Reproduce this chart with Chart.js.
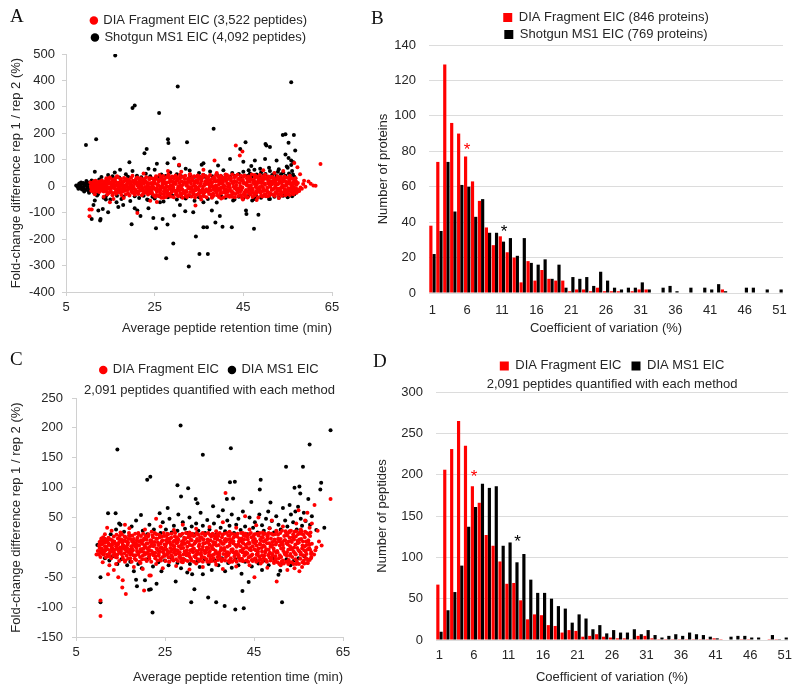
<!DOCTYPE html>
<html lang="en">
<head>
<meta charset="utf-8">
<title>DIA fragment vs MS1 quantification reproducibility</title>
<script src="https://cdn.jsdelivr.net/npm/chart.js@4.4.1/dist/chart.umd.min.js"></script>
<style>
html,body{margin:0;padding:0;background:#fff}
body{position:relative;width:800px;height:691px;overflow:hidden}
canvas{position:absolute}
.tag{position:absolute;font-family:"Liberation Serif","Times New Roman",serif;font-size:19px;line-height:19px;color:#111}
</style>
</head>
<body>
<canvas id="cA" width="400" height="345" style="left:0px;top:0px"></canvas>
<canvas id="cB" width="440" height="345" style="left:360px;top:0px"></canvas>
<canvas id="cC" width="400" height="351" style="left:0px;top:340px"></canvas>
<canvas id="cD" width="440" height="351" style="left:360px;top:340px"></canvas>
<div class="tag" style="left:10px;top:6px">A</div>
<div class="tag" style="left:371px;top:8px">B</div>
<div class="tag" style="left:10px;top:349px">C</div>
<div class="tag" style="left:373px;top:351px">D</div>
<script>
// ---------------- Panel A : fold-change vs retention time ----------------
const aFragCore = [
[10.6,2],[10.8,-8],[11,12],[11.2,-3],[11.4,7],[11.6,-14],[11.8,4],[12,-6],[12.2,15],[12.4,0],[12.6,-11],[12.8,9],[13,-2],[13.2,-17],[13.4,6],[13.6,16],[13.8,-7],[14,3],
[14.2,-21],[14.4,22],[14.6,-4],[14.8,11],[15,-13],[15.2,0],[15.4,25],[15.6,-26],[15.8,8],[16,-9],[16.2,17],[16.4,-18],[16.6,3],[16.8,-2],[17,13],[17.2,-24],[17.4,27],[17.6,-11],[17.8,6],[18,-5],[18.2,20],[18.4,-15],[18.6,0],[18.8,10],[19,-27],[19.2,24],[19.4,-8],[19.6,14],[19.8,-19],[20,2],[20.2,-1],[20.4,18],[20.6,-12],[20.8,28],[21,-23],[21.2,7],[21.4,-6],[21.6,15],[21.8,-16],[22,1],[22.2,23],[22.4,-28],[22.6,9],[22.8,-3],[23,19],[23.2,-13],[23.4,4],[23.6,-20],[23.8,26],[24,-7],[24.2,12],[24.4,-25],[24.6,-1],[24.8,16],[25,-10],
[25.2,30],[25.4,-33],[25.6,5],[25.8,-14],[26,21],[26.2,-2],[26.4,35],[26.6,-29],[26.8,11],[27,-7],[27.2,26],[27.4,-20],[27.6,0],[27.8,14],[28,-35],[28.2,32],[28.4,-9],[28.6,3],[28.8,-24],[29,18],[29.2,-4],[29.4,29],[29.6,-16],[29.8,8],[30,-31],[30.2,23],[30.4,-1],[30.6,12],[30.8,-26],[31,34],[31.2,-12],[31.4,6],[31.6,-19],[31.8,27],[32,-36],[32.2,2],[32.4,16],[32.6,-8],[32.8,31],[33,-22],[33.2,9],[33.4,-3],[33.6,22],[33.8,-30],[34,13],[34.2,-15],[34.4,36],[34.6,-5],[34.8,25],[35,-27],[35.2,1],[35.4,10],[35.6,-18],[35.8,33],[36,-34],[36.2,4],[36.4,19],[36.6,-11],[36.8,28],[37,-21],[37.2,7],[37.4,-6],[37.6,24],[37.8,-32],[38,15],[38.2,-1],[38.4,35],[38.6,-17],[38.8,3],[39,-25],[39.2,20],[39.4,-9],[39.6,30],[39.8,-28],[40,11],[40.2,-4],[40.4,17],[40.6,-23],[40.8,0],[41,32],[41.2,-13],[41.4,26],[41.6,-35],[41.8,8],[42,-7],[42.2,21],[42.4,-19],[42.6,14],[42.8,-2],[43,34],[43.2,-29],[43.4,5],[43.6,-16],[43.8,27],[44,-10],[44.2,12],[44.4,-33],[44.6,23],[44.8,-5],[45,36],[45.2,-24],[45.4,9],[45.6,-14],[45.8,30],[46,-20],[46.2,2],[46.4,18],[46.6,-31],[46.8,25],[47,-8],[47.2,13],[47.4,-26],[47.6,33],[47.8,-3],[48,6],[48.2,-22],[48.4,29],[48.6,-12],[48.8,16],[49,-36],[49.2,1],[49.4,22],[49.6,-18],[49.8,10],[50,-30],
[50.2,28],[50.4,-6],[50.6,15],[50.8,-25],[51,4],[51.2,32],[51.4,-14],[51.6,9],[51.8,-33],[52,20],[52.2,-2],[52.4,26],[52.6,-19],[52.8,7],[53,-10],[53.2,31],[53.4,-28],[53.6,13],[53.8,-4],[54,22],[54.2,-22],[54.4,1],[54.6,17],[54.8,-30],[55,10],
[55.2,-8],[55.4,24],[55.6,-18],[55.8,5],[56,-26],[56.2,15],[56.4,-3],[56.6,20],[56.8,-12],[57,6],
[10.7,-4],[11.1,6],[11.5,-1],[11.9,10],[12.3,-9],[12.7,4],[13.1,-5],[13.5,11],[13.9,-12],
[14.3,8],[14.7,-10],[15.1,14],[15.5,-3],[15.9,5],[16.3,-15],[16.7,12],[17.1,-7],[17.5,1],[17.9,16],[18.3,-12],[18.7,6],[19.1,-4],[19.5,10],[19.9,-9],[20.3,13],[20.7,-16],[21.1,3],[21.5,-2],[21.9,9],[22.3,-11],[22.7,15],[23.1,-6],[23.5,0],[23.9,-14],[24.3,7],[24.7,-5],
[25.1,11],[25.5,-7],[25.9,18],[26.3,-15],[26.7,3],[27.1,-19],[27.5,9],[27.9,-2],[28.3,15],[28.7,-12],[29.1,6],[29.5,-17],[29.9,20],[30.3,-5],[30.7,1],[31.1,-10],[31.5,14],[31.9,-20],[32.3,8],[32.7,-3],[33.1,17],[33.5,-13],[33.9,4],[34.3,-8],[34.7,12],[35.1,-18],[35.5,19],[35.9,-1],[36.3,9],[36.7,-15],[37.1,14],[37.5,-4],[37.9,2],[38.3,-11],[38.7,18],[39.1,-17],[39.5,7],[39.9,-6],[40.3,13],[40.7,-12],[41.1,20],[41.5,-2],[41.9,5],[42.3,-19],[42.7,10],[43.1,-9],[43.5,16],[43.9,-14],[44.3,1],[44.7,-5],[45.1,11],[45.5,-20],[45.9,17],[46.3,-8],[46.7,4],[47.1,-13],[47.5,8],[47.9,-18],[48.3,19],[48.7,-3],[49.1,12],[49.5,-11],[49.9,6],
[50.3,-14],[50.7,9],[51.1,-3],[51.5,16],[51.9,-10],[52.3,5],[52.7,-18],[53.1,12],[53.5,-6],[53.9,18],[54.3,-12],[54.7,3],[55.1,-16],[55.5,10],[55.9,-4],[56.3,8],[56.7,-9]
];
const aFragCore2 = [
[10.5,14],[10.7,-17],[10.9,6],[11.1,-20],[11.3,19],[11.5,-10],[11.7,21],[11.9,-1],[12.1,-19],[12.3,11],[12.5,-22],[12.7,17],[12.9,-13],[13.1,22],[13.3,5],[13.5,-20],[13.7,-9],[13.9,20],
[14.1,30],[14.3,-31],[14.5,12],[14.7,-26],[14.9,33],[15.1,-18],[15.3,7],[15.5,-34],[15.7,20],[15.9,-1],[16.1,29],[16.3,-28],[16.5,-11],[16.7,34],[16.9,-22],[17.1,9],[17.3,24],[17.5,-33],[17.7,15],[17.9,-19],[18.1,31],[18.3,-4],[18.5,-30],[18.7,26],[18.9,-14],[19.1,17],[19.3,-35],[19.5,4],[19.7,32],[19.9,-25],[20.1,21],[20.3,-9],[20.5,-32],[20.7,10],[20.9,-20],[21.1,33],[21.3,-29],[21.5,24],[21.7,-2],[21.9,30],[22.1,-34],[22.3,13],[22.5,-17],[22.7,27],[22.9,-24],[23.1,34],[23.3,-8],[23.5,-31],[23.7,11],[23.9,31],[24.1,-27],[24.3,-16],[24.5,29],[24.7,-33],[24.9,22],
[25.1,-40],[25.3,38],[25.5,-21],[25.7,26],[25.9,-37],[26.1,42],[26.3,-9],[26.5,-44],[26.7,20],[26.9,39],[27.1,-30],[27.3,13],[27.5,-41],[27.7,35],[27.9,-17],[28.1,44],[28.3,-28],[28.5,22],[28.7,-39],[28.9,37],[29.1,-10],[29.3,-42],[29.5,15],[29.7,41],[29.9,-23],[30.1,33],[30.3,-38],[30.5,-15],[30.7,43],[30.9,-35],[31.1,19],[31.3,-44],[31.5,36],[31.7,-25],[31.9,40],[32.1,-18],[32.3,-41],[32.5,28],[32.7,-33],[32.9,44],[33.1,-6],[33.3,-39],[33.5,34],[33.7,-27],[33.9,38],[34.1,-43],[34.3,21],[34.5,-32],[34.7,41],[34.9,-12],[35.1,37],[35.3,-40],[35.5,26],[35.7,-24],[35.9,43],[36.1,-38],[36.3,-20],[36.5,39],[36.7,-42],[36.9,14],[37.1,35],[37.3,-29],[37.5,42],[37.7,-16],[37.9,-44],[38.1,30],[38.3,-36],[38.5,22],[38.7,-8],[38.9,44],[39.1,-34],[39.3,37],[39.5,-41],[39.7,18],[39.9,40],[40.1,-26],[40.3,33],[40.5,-43],[40.7,27],[40.9,-14],[41.1,-38],[41.3,42],[41.5,-22],[41.7,38],[41.9,-40],[42.1,31],[42.3,-33],[42.5,44],[42.7,-25],[42.9,16],[43.1,-42],[43.3,39],[43.5,-12],[43.7,43],[43.9,-37],[44.1,28],[44.3,-20],[44.5,40],[44.7,-44],[44.9,24],[45.1,-31],[45.3,41],[45.5,-39],[45.7,10],[45.9,-43],[46.1,37],[46.3,-27],[46.5,34],[46.7,-17],[46.9,44],[47.1,-41],[47.3,21],[47.5,-35],[47.7,40],[47.9,-28],[48.1,36],[48.3,-43],[48.5,13],[48.7,42],[48.9,-24],[49.1,30],[49.3,-39],[49.5,38],[49.7,-32],[49.9,43],
[50.1,-38],[50.3,33],[50.5,-22],[50.7,37],[50.9,-35],[51.1,19],[51.3,-29],[51.5,36],[51.7,-11],[51.9,30],[52.1,-37],[52.3,14],[52.5,-26],[52.7,38],[52.9,-31],[53.1,22],[53.3,-16],[53.5,35],[53.7,-36],[53.9,27],[54.1,-24],[54.3,37],[54.5,-34],[54.7,8],[54.9,32],[55.1,-28],[55.3,19],[55.5,-33],[55.7,30],[55.9,-20],[56.1,28],[56.3,-30],[56.5,25],[56.7,-22],[56.9,18],
[11,-12],[11.4,14],[11.8,-18],[12.2,8],[12.6,18],[13,-15],[13.4,-3],[13.8,13],[14.2,-9],[14.6,24],[15,-22],[15.4,-6],[15.8,19],[16.2,-24],[16.6,10],[17,-14],[17.4,6],[17.8,-20],[18.2,2],[18.6,23],[19,-11],[19.4,17],[19.8,-2],[20.2,-23],[20.6,22],[21,14],[21.4,-19],[21.8,5],[22.2,-8],[22.6,20],[23,-24],[23.4,12],[23.8,-5],[24.2,-18],[24.6,8],[25,25],[25.4,-15],[25.8,5],[26.2,-26],[26.6,28],[27,12],[27.4,-8],[27.8,-27],[28.2,-2],[28.6,25],[29,-17],[29.4,10],[29.8,-30],[30.2,-12],[30.6,28],[31,2],[31.4,-27],[31.8,15],[32.2,-22],[32.6,24],[33,-9],[33.4,27],[33.8,-19],[34.2,-1],[34.6,17],[35,-28],[35.4,30],[35.8,-11],[36.2,-24],[36.6,8],[37,25],[37.4,-16],[37.8,13],[38.2,-28],[38.6,27],[39,-3],[39.4,22],[39.8,-15],[40.2,26],[40.6,4],[41,-26],[41.4,11],[41.8,-14],[42.2,29],[42.6,-28],[43,20],[43.4,-6],[43.8,-24],[44.2,26],[44.6,-13],[45,16],[45.4,-29],[45.8,3],[46.2,27],[46.6,-11],[47,-25],[47.4,23],[47.8,14],[48.2,-8],[48.6,26],[49,-21],[49.4,-5],[49.8,29],[50.2,-16],[50.6,24],[51,-27],[51.4,7],[51.8,21],[52.2,-25],[52.6,-9],[53,25],[53.4,-18],[53.8,4],[54.2,28],[54.6,-14],[55,-24],[55.4,16],[55.8,-10],[56.2,-18],[56.6,12]
];
const aFragOut = [
[62.4,84],[59.7,18],[60.2,9],[60.8,3],[61.3,2],[58.7,21],[58.2,-10],[57.5,-13],[57.2,-20],[56.3,-13],[43.3,154],[44.8,131],[44.2,116],
[10.3,-88],[10.3,-114],[10.8,-88],[21.1,-101],[34.2,-73],[38.5,97],[30.5,81],[14.9,-61],[15.7,-48],[56.5,88],[57.2,72],[49.5,60],[47.5,42],
[44.9,-50],[36,62],[31,55],[24,-55],[22.5,48],[18,-45],[13.5,-40],[27,-44],[33,45],[40,-46],[46,-42],[52,50],[53,-45],[55.5,40],[20,40],
[28,58],[39,50],[42.5,-40],[48,-52],[11.5,-30],[16.5,38],[25.5,-60],[35.5,-50],[41,44],[50.5,-38],[54,58],[57.8,45],[58.5,8],[59,-2],[57.9,-5],
[56.8,30],[57.3,12],[57.6,-18],[57,-25],[56.9,-8]
];
const aMs1Core = [
[7.3,3],[7.6,-2],[7.9,5],[8.1,-6],[8.3,1],[8.5,8],[8.7,-4],[8.9,12],[9,-9],[9.2,2],[9.4,-14],[9.5,6],[9.7,16],[9.8,-3],[10,10],[10.1,-18],[10.3,0],[10.4,14],[10.6,-10],[10.7,4],[10.9,-7],[11,18],[11.2,-2],[11.4,9],[11.5,-15],[11.7,3],[11.9,-5],
[8,10],[8.6,-12],[9.1,-20],[9.6,20],[10.2,-25],[10.8,22],[11.3,-24],[12.2,-30],[12.5,25],[7.8,-10],[8.4,14],[9.3,8],[9.9,-7],[10.5,6],[11.1,-12],
[13,35],[14.5,42],[15.5,38],[16,52],[17,33],[18.5,45],[19,36],[20,58],[21,40],[22,34],[23,47],[24,38],[25,62],[26,36],[26.5,44],[27.5,39],[28.5,52],[29,35],[30,45],[31,38],[32,66],[33,40],[34,36],[35,50],[36,42],[36.5,35],[37.5,56],[38,38],[39,45],[40,37],[40.5,60],[41,42],[42,36],[42.5,50],[43,40],[44,46],[44.5,36],[45,55],[46,40],[46.5,48],[47,37],[47.5,62],[48,44],[48.5,38],[49,52],[49.5,40],[50,46],[50.5,36],[51,58],[51.5,42],[52,48],[52.5,38],[53,64],[53.5,45],[54,52],[54.5,40],[55,70],[55.3,48],[55.6,38],[56,58],[56.2,44],[56.5,36],[55.8,80],[54.8,75],[52.8,55],[50.8,70],[48.8,66],[46.2,60],
[12,-35],[13.5,-44],[14,-38],[15,-50],[16.5,-36],[17.5,-48],[18,-40],[19.5,-56],[20.5,-38],[21.5,-45],[22.5,-36],[23.5,-52],[24.5,-40],[25,-46],[26,-38],[27,-58],[28,-42],[29,-36],[30,-50],[31,-40],[32,-46],[33,-38],[34,-55],[35,-42],[36,-36],[37,-48],[38,-40],[39,-62],[40,-38],[41,-44],[42,-36],[43,-50],[44,-40],[45,-46],[46,-38],[47,-54],[48,-40],[49,-44],[50,-36],[51,-48],[52,-40],[53,-44],[54,-36],[55,-42],[56,-38],[56.5,-30]
];
const aMs1Out = [
[16.1,494],[55.8,393],[30.2,377],[20,296],[20.5,305],[26,277],[38.3,217],[9.5,156],[11.8,178],[28,178],[28.1,163],[32.3,166],[53.9,194],[54.5,197],[56.4,194],[22.7,125],[23.2,141],[45.5,166],[44.3,141],[50,160],[50.2,154],[51,148],[55.2,164],[56.7,135],[54.5,120],[55.2,107],[55.8,97],[56.3,91],[29.4,106],[19.3,91],[27.9,87],[30.5,78],[36,87],[35.6,81],[39.3,78],[42,103],[45,93],[47.6,97],[49.9,103],[52.5,97],[11.5,55],[17.2,62],[23.6,66],[25.5,85],[32.9,59],[46.8,76],
[12.7,-130],[12.8,-124],[10.8,-124],[19.8,-144],[25.3,-159],[29.2,-217],[27.6,-272],[32.7,-304],[34.3,-190],[35.1,-256],[37,-256],[36,-155],[36.8,-155],[38.7,-137],[40.3,-153],[42.4,-155],[47.4,-161],[45.6,-92],[45.7,-105],[48.4,-108],[39.7,-113],[37.9,-92],[33.7,-98],[31.9,-95],[29.4,-111],[27.9,-145],[26.8,-124],[24.7,-120],[23.6,-83],[21.8,-113],[20.5,-83],[21.1,-92],[16.4,-61],[16.8,-79],[14.5,-98],[12.3,-92],[13.3,-86],[11.2,-71],[11.5,-54],[14,-50],[17.9,-71],[26.2,-61],[23.3,-50],[30.7,-71],[36,-61],[42.7,-54],[47.5,-48],[50.8,-48]
];

// ---------------- Panel B : CV histogram, proteins ----------------
const cvBins = ['1','2','3','4','5','6','7','8','9','10','11','12','13','14','15','16','17','18','19','20','21','22','23','24','25','26','27','28','29','30','31','32','33','34','35','36','37','38','39','40','41','42','43','44','45','46','47','48','49','50','51'];
const cvTickLabels = ['1','6','11','16','21','26','31','36','41','46','51'];
const bFragProteins = [38,74,129,96,90,77,63,52,37,27,32,23,20,6,18,7,13,8,7,7,1,2,2,1,3,1,1,1,0,1,2,2,0,0,0,0,0,0,0,0,0,0,2,0,0,0,0,0,0,0,0];
const bMs1Proteins  = [22,35,74,46,61,60,43,53,34,34,29,31,21,31,17,16,19,8,16,3,9,8,9,4,12,7,3,2,3,3,6,2,0,3,4,1,0,3,0,3,2,5,1,0,0,3,3,0,2,0,2];
const bStarBins = ['6','11'];
const bStarValues = [83.4,37.1];

// ---------------- Panel C : fold-change vs retention time, shared peptides ----------------
const cFragCore = [
[10.2,3],[10.4,-7],[10.6,11],[10.8,-2],[11,6],[11.2,-12],[11.4,14],[11.6,-5],[11.8,1],[12,9],[12.2,-15],[12.4,4],[12.6,-9],[12.8,13],[13,-1],[13.2,7],[13.4,-13],[13.6,10],[13.8,-4],[14,2],
[14.2,-17],[14.4,15],[14.6,-6],[14.8,19],[15,0],[15.2,-11],[15.4,8],[15.6,-20],[15.8,12],[16,-3],[16.2,17],[16.4,-14],[16.6,5],[16.8,-8],[17,20],[17.2,-18],[17.4,2],[17.6,10],[17.8,-5],[18,14],[18.2,-19],[18.4,7],[18.6,-1],[18.8,16],[19,-12],[19.2,3],[19.4,-16],[19.6,19],[19.8,-7],[20,11],[20.2,-2],[20.4,13],[20.6,-20],[20.8,6],[21,-10],[21.2,18],[21.4,-15],[21.6,1],[21.8,9],[22,-6],[22.2,20],[22.4,-13],[22.6,4],[22.8,-18],[23,15],[23.2,-3],[23.4,8],[23.6,-11],[23.8,17],[24,-19],[24.2,0],[24.4,12],[24.6,-8],[24.8,19],[25,-14],[25.2,5],[25.4,-4],[25.6,14],[25.8,-17],[26,9],[26.2,-1],[26.4,16],[26.6,-20],[26.8,3],[27,-9],[27.2,18],[27.4,-12],[27.6,7],[27.8,-5],[28,13],[28.2,-16],[28.4,20],[28.6,-2],[28.8,10],[29,-19],[29.2,6],[29.4,-7],[29.6,15],[29.8,-13],[30,1],[30.2,17],[30.4,-10],[30.6,4],[30.8,-18],[31,12],[31.2,-3],[31.4,19],[31.6,-15],[31.8,8],[32,-6],[32.2,14],[32.4,-20],[32.6,2],[32.8,11],[33,-11],[33.2,16],[33.4,-4],[33.6,7],[33.8,-17],[34,20],[34.2,-8],[34.4,0],[34.6,13],[34.8,-14],[35,5],[35.2,-19],[35.4,18],[35.6,-2],[35.8,9],[36,-12],[36.2,15],[36.4,-6],[36.6,3],[36.8,-16],[37,19],[37.2,-9],[37.4,11],[37.6,-1],[37.8,17],[38,-20],[38.2,6],[38.4,-5],[38.6,14],[38.8,-13],[39,1],[39.2,20],[39.4,-10],[39.6,8],[39.8,-18],[40,12],[40.2,-3],[40.4,16],[40.6,-15],[40.8,4],[41,-7],[41.2,18],[41.4,-11],[41.6,10],[41.8,-19],[42,2],[42.2,15],[42.4,-4],[42.6,7],[42.8,-14],[43,19],[43.2,-8],[43.4,0],[43.6,13],[43.8,-17],[44,6],[44.2,-1],[44.4,17],[44.6,-12],[44.8,9],[45,-20],[45.2,14],[45.4,-5],[45.6,3],[45.8,-10],[46,20],[46.2,-16],[46.4,5],[46.6,11],[46.8,-7],[47,16],[47.2,-18],[47.4,1],[47.6,12],[47.8,-3],[48,18],[48.2,-13],[48.4,7],[48.6,-9],[48.8,15],[49,-19],[49.2,4],[49.4,-2],[49.6,13],[49.8,-15],[50,8],
[50.2,-6],[50.4,21],[50.6,-18],[50.8,3],[51,14],[51.2,-24],[51.4,9],[51.6,-1],[51.8,19],[52,-12],[52.2,24],[52.4,-8],[52.6,5],[52.8,-21],[53,16],[53.2,-3],[53.4,11],[53.6,-16],[53.8,22],[54,0],[54.2,-10],[54.4,18],[54.6,-23],[54.8,7],[55,-5],[55.2,13],[55.4,-19],[55.6,23],[55.8,-2],[56,10],[56.2,-14],[56.4,17],[56.6,-7],[56.8,4],[57,-20],[57.2,12],[57.4,-1],[57.6,19],[57.8,-11],[58,6],
[10.3,-1],[10.7,5],[11.1,-6],[11.5,2],[11.9,-3],[12.3,7],[12.7,-5],[13.1,3],[13.5,-8],[13.9,6],[14.3,-2],[14.7,9],[15.1,-7],[15.5,4],[15.9,-10],[16.3,1],[16.7,8],[17.1,-4],[17.5,-9],[17.9,5],[18.3,2],[18.7,-6],[19.1,10],[19.5,-3],[19.9,6],[20.3,-8],[20.7,0],[21.1,7],[21.5,-5],[21.9,3],[22.3,-10],[22.7,9],[23.1,-2],[23.5,4],[23.9,-7],[24.3,10],[24.7,-4],[25.1,1],[25.5,8],[25.9,-9],[26.3,5],[26.7,-3],[27.1,2],[27.5,-6],[27.9,9],[28.3,-8],[28.7,4],[29.1,-1],[29.5,6],[29.9,-10],[30.3,8],[30.7,-5],[31.1,3],[31.5,-2],[31.9,10],[32.3,-7],[32.7,5],[33.1,-9],[33.5,1],[33.9,7],[34.3,-4],[34.7,9],[35.1,-6],[35.5,2],[35.9,-3],[36.3,8],[36.7,-10],[37.1,4],[37.5,-5],[37.9,6],[38.3,-1],[38.7,10],[39.1,-8],[39.5,3],[39.9,-4],[40.3,7],[40.7,-9],[41.1,1],[41.5,5],[41.9,-6],[42.3,9],[42.7,-2],[43.1,4],[43.5,-10],[43.9,8],[44.3,-5],[44.7,2],[45.1,-3],[45.5,10],[45.9,-7],[46.3,6],[46.7,-1],[47.1,3],[47.5,-9],[47.9,7],[48.3,-4],[48.7,1],[49.1,9],[49.5,-6],[49.9,5],[50.3,-8],[50.7,10],[51.1,-2],[51.5,4],[51.9,-10],[52.3,7],[52.7,-4],[53.1,2],[53.5,9],[53.9,-7],[54.3,5],[54.7,-1],[55.1,8],[55.5,-9],[55.9,3],[56.3,-5],[56.7,10],[57.1,-3],[57.5,5],[57.9,-8]
];
const cFragCore2 = [
[10.1,-12],[10.3,9],[10.5,-16],[10.7,15],[10.9,-5],[11.1,17],[11.3,-9],[11.5,8],[11.7,-17],[11.9,13],[12.1,-3],[12.3,16],[12.5,-14],[12.7,4],[12.9,-18],[13.1,12],[13.3,-7],[13.5,18],[13.7,-11],[13.9,-16],
[14.1,21],[14.3,-12],[14.5,6],[14.7,-23],[14.9,13],[15.1,-4],[15.3,22],[15.5,-16],[15.7,3],[15.9,18],[16.1,-22],[16.3,10],[16.5,-1],[16.7,-19],[16.9,24],[17.1,-9],[17.3,14],[17.5,-24],[17.7,20],[17.9,-13],[18.1,5],[18.3,23],[18.5,-21],[18.7,12],[18.9,-8],[19.1,21],[19.3,-24],[19.5,9],[19.7,-3],[19.9,-20],[20.1,23],[20.3,15],[20.5,-12],[20.7,19],[20.9,-23],[21.1,-2],[21.3,22],[21.5,-19],[21.7,12],[21.9,-24],[22.1,8],[22.3,17],[22.5,-9],[22.7,24],[22.9,-15],[23.1,22],[23.3,-22],[23.5,-6],[23.7,21],[23.9,-1],[24.1,-22],[24.3,18],[24.5,-16],[24.7,24],[24.9,5],[25.1,-23],[25.3,19],[25.5,-12],[25.7,22],[25.9,-24],[26.1,15],[26.3,-7],[26.5,23],[26.7,-16],[26.9,-22],[27.1,11],[27.3,24],[27.5,-20],[27.7,17],[27.9,-23],[28.1,2],[28.3,21],[28.5,-18],[28.7,-24],[28.9,23],[29.1,-12],[29.3,16],[29.5,-21],[29.7,24],[29.9,-5],[30.1,-23],[30.3,22],[30.5,-15],[30.7,19],[30.9,-22],[31.1,23],[31.3,-8],[31.5,-24],[31.7,20],[31.9,-17],[32.1,24],[32.3,-11],[32.5,21],[32.7,-23],[32.9,17],[33.1,-19],[33.3,23],[33.5,-24],[33.7,13],[33.9,-6],[34.1,22],[34.3,-20],[34.5,-24],[34.7,24],[34.9,-9],[35.1,21],[35.3,-14],[35.5,-23],[35.7,23],[35.9,-18],[36.1,20],[36.3,-24],[36.5,16],[36.7,22],[36.9,-21],[37.1,-13],[37.3,24],[37.5,-19],[37.7,-23],[37.9,21],[38.1,-11],[38.3,23],[38.5,-22],[38.7,-16],[38.9,24],[39.1,13],[39.3,-23],[39.5,20],[39.7,-20],[39.9,23],[40.1,-24],[40.3,-8],[40.5,22],[40.7,-21],[40.9,19],[41.1,-24],[41.3,23],[41.5,-17],[41.7,15],[41.9,-22],[42.1,24],[42.3,-19],[42.5,-23],[42.7,20],[42.9,-9],[43.1,23],[43.3,-22],[43.5,18],[43.7,-24],[43.9,22],[44.1,-15],[44.3,24],[44.5,-21],[44.7,-23],[44.9,19],[45.1,22],[45.3,-18],[45.5,-24],[45.7,23],[45.9,-13],[46.1,-22],[46.3,24],[46.5,-20],[46.7,17],[46.9,-24],[47.1,22],[47.3,-14],[47.5,23],[47.7,-21],[47.9,-24],[48.1,20],[48.3,24],[48.5,-17],[48.7,-22],[48.9,23],[49.1,-11],[49.3,21],[49.5,-24],[49.7,22],[49.9,-20],
[50.1,26],[50.3,-25],[50.5,14],[50.7,-28],[50.9,24],[51.1,-16],[51.3,28],[51.5,-22],[51.7,-27],[51.9,12],[52.1,27],[52.3,-24],[52.5,20],[52.7,-28],[52.9,25],[53.1,-14],[53.3,28],[53.5,-25],[53.7,17],[53.9,-28],[54.1,26],[54.3,-20],[54.5,27],[54.7,-26],[54.9,22],[55.1,-28],[55.3,25],[55.5,-12],[55.7,27],[55.9,-25],[56.1,21],[56.3,-27],[56.5,26],[56.7,-18],[56.9,24],[57.1,-26],[57.3,22],[57.5,-21],[57.7,25],[57.9,-16],
[10.4,7],[10.8,-10],[11.2,11],[11.6,-4],[12,-12],[12.4,13],[12.8,-7],[13.2,-2],[13.6,9],[14,-13],[14.4,4],[14.8,-9],[15.2,13],[15.6,-1],[16,11],[16.4,-6],[16.8,14],[17.2,-12],[17.6,-2],[18,9],[18.4,-13],[18.8,4],[19.2,-8],[19.6,12],[20,-14],[20.4,3],[20.8,13],[21.2,-7],[21.6,-12],[22,11],[22.4,2],[22.8,-9],[23.2,14],[23.6,-14],[24,6],[24.4,-2],[24.8,-11],[25.2,12],[25.6,-7],[26,14],[26.4,-13],[26.8,9],[27.2,-3],[27.6,13],[28,-10],[28.4,-14],[28.8,5],[29.2,12],[29.6,-11],[30,9],[30.4,-14],[30.8,13],[31.2,-7],[31.6,6],[32,-12],[32.4,11],[32.8,-3],[33.2,-14],[33.6,13],[34,-10],[34.4,8],[34.8,-1],[35.2,12],[35.6,-13],[36,5],[36.4,-8],[36.8,13],[37.2,-14],[37.6,9],[38,-4],[38.4,12],[38.8,-10],[39.2,-13],[39.6,14],[40,-6],[40.4,10],[40.8,-12],[41.2,3],[41.6,-14],[42,12],[42.4,-8],[42.8,13],[43.2,-12],[43.6,6],[44,-3],[44.4,-14],[44.8,12],[45.2,7],[45.6,-12],[46,-2],[46.4,13],[46.8,-13],[47.2,10],[47.6,-6],[48,14],[48.4,-11],[48.8,3],[49.2,-14],[49.6,11],[50,-9],[50.4,14],[50.8,-13],[51.2,6],[51.6,-6],[52,12],[52.4,-14],[52.8,10],[53.2,-11],[53.6,-2],[54,13],[54.4,-12],[54.8,11],[55.2,-7],[55.6,14],[56,-13],[56.4,2],[56.8,-11],[57.2,9],[57.6,-4]
];
const cFragOut = [
[11.5,22],[13,28],[15,25],[17,32],[19,24],[20.5,30],[22,26],[24,35],[25.5,23],[27,29],[29,38],[30.5,25],[32,31],[33.5,24],[35,34],[36.5,27],[38,42],[39.5,26],[41,33],[42.5,24],[44,30],[45.5,37],[47,25],[48.5,32],[50,28],[51.5,35],[53,27],[54.5,40],[55.5,30],[56.5,45],[57.5,33],[58.6,71],[62.2,81],[38.6,91],[57,58],[58,40],[59.3,28],[49,45],[43,52],[23,48],[16,38],[12,33],[55,62],[46,50],
[10.5,-89],[10.5,-115],[9.9,-6],[9.6,-12],[11,-25],[12.5,-30],[13.5,-38],[12.2,-45],[14.5,-50],[15.5,-55],[15.4,-67],[16.2,-78],[14,-28],[16,-24],[18,-33],[19.5,-26],[20.3,-72],[21.5,-47],[21.8,-47],[20,-36],[23,-28],[24.5,-35],[26,-24],[27.5,-31],[29,-25],[30.5,-37],[32,-27],[33.5,-33],[35,-24],[36.5,-29],[38,-36],[39.5,-25],[41,-32],[42.5,-23],[44,-30],[45.1,-50],[46.5,-27],[48,-34],[49.5,-26],[50.1,-57],[51,-30],[52.5,-38],[53,-25],[54.1,-35],[55.2,-40],[54.5,-28],[55.8,-33],[56.2,-22],[57,-26],[57.8,-18],[58.5,-12],[59.6,10],[60.2,3],[59,0],[58.8,-5]
];
const cMs1Core = [
[9.8,4],[10.5,-50],[11.3,15],[12.2,57],[13.9,57],[14.7,40],[15,38],[12.8,22],[14,30],[15.8,26],[17,20],[17.5,35],[18.5,45],[19.6,54],[20,28],[21,22],[21.5,38],[22.5,30],[23.8,57],[24,24],[24.5,42],[25.6,66],[25.2,30],[26,48],[26.5,25],[27,36],[27.8,28],[28,55],[28.5,20],[29,42],[29.5,31],[30,24],[30.5,50],[31,35],[31.5,22],[32,40],[32.3,74],[31.9,81],[32.5,28],[33,58],[33.5,36],[34,24],[34.5,46],[35,30],[35.8,69],[36,40],[36.5,22],[37,52],[37.5,33],[38,62],[38.5,27],[39,45],[39.5,36],[40,55],[40.3,82],[38.9,81],[40.5,24],[41,38],[41.5,48],[42,29],[42.5,60],[43,35],[43.5,22],[44,50],[44.4,76],[44.8,33],[45.2,42],[45.8,25],[46.2,55],[46.8,37],[47.2,28],[47.7,48],[48.2,60],[48.7,75],[48.5,32],[49,44],[49.5,25],[50,52],[50.5,38],[51,30],[51.5,66],[52,45],[52.5,35],[53,71],[53.3,55],[53.8,42],[54.3,60],[54.6,30],[54.9,68],[55.5,48],[55.8,36],[56.2,58],[56.6,44],[57.6,38],[58,52],[59,29],[60.8,33],
[11.5,-18],[12.5,-22],[13.2,-15],[14.3,-28],[15.2,-20],[16.5,-30],[17.2,-24],[18.5,-54],[18.7,-65],[18,-40],[19,-28],[19.8,-35],[20.5,-55],[21,-20],[21.4,-71],[21.8,-70],[22.3,-32],[23.1,-61],[23.5,-25],[24.2,-40],[25,-22],[25.8,-30],[26.6,-18],[27.4,-57],[27.8,-26],[28.6,-35],[29.2,-20],[30,-42],[30.6,-28],[31.1,-45],[31.6,-70],[32.2,-24],[32.8,-33],[33.5,-45],[34,-20],[34.8,-28],[35.5,-38],[36.2,-22],[37,-30],[37.8,-18],[38.5,-40],[39.2,-26],[40,-34],[40.8,-20],[41.5,-30],[42.4,-73],[42.2,-44],[43,-24],[43.8,-58],[44.5,-32],[45.3,-20],[46,-27],[46.8,-38],[47.5,-22],[48.3,-30],[49.2,-18],[50.5,-46],[50.9,-39],[51.5,-26],[52.3,-20],[53.2,-30],[54,-22],[55,-18],[56.3,-15]
];
const cMs1Out = [
[28.5,204],[14.3,164],[33.5,155],[39.8,166],[62.2,196],[57.5,172],[52.2,135],[56,135],[21,113],[21.7,118],[27.8,104],[30.2,99],[28.6,85],[39.6,109],[40.7,110],[46.5,113],[46.3,97],[54.1,100],[55.2,102],[55.4,90],[57.2,81],[59.9,97],[60.1,108],
[22.2,-109],[30.9,-92],[34.7,-84],[36.5,-92],[38.4,-98],[40.8,-104],[42.7,-102],[10.5,-92],[51.3,-92]
];

// ---------------- Panel D : CV histogram, shared peptides ----------------
const dFragPeptides = [67,206,231,265,235,186,166,127,114,95,68,69,48,25,31,30,18,17,9,12,11,4,5,7,4,3,2,2,1,5,5,2,1,1,1,1,1,1,1,1,2,1,0,0,1,1,0,0,1,1,0];
const dMs1Peptides  = [10,36,58,90,137,161,189,184,186,114,118,94,104,73,57,57,50,41,38,21,31,26,13,18,8,12,9,9,13,7,12,6,3,5,7,5,9,7,6,4,2,0,4,5,5,3,3,0,6,1,3];
const dStarBins = ['6','12'];
const dStarValues = [203.3,124.8];

// ---------------- styling & chart builders ----------------
const RED = '#ff0000', BLACK = '#000000', TEXT = '#262626', AXIS = '#d0d0d0', GRID = '#dcdcdc';
Chart.defaults.font.family = '"Liberation Sans", Arial, sans-serif';
Chart.defaults.font.size = 13;
Chart.defaults.color = TEXT;

const toXY = ([x, y]) => ({x, y});

const starPlugin = {
  id: 'stars',
  afterDatasetsDraw(chart, args, opts) {
    const {ctx, scales: {x, y}} = chart;
    const step = x.getPixelForValue(1) - x.getPixelForValue(0);
    const size = 17;
    ctx.save();
    ctx.font = size + 'px "Liberation Sans", Arial, sans-serif';
    ctx.textAlign = 'center';
    ctx.textBaseline = 'alphabetic';
    opts.bins.forEach((b, i) => {
      const idx = chart.data.labels.indexOf(b);
      const px = x.getPixelForValue(idx) + opts.shifts[i] * step;
      const py = y.getPixelForValue(opts.values[i]) + 0.57 * size;
      ctx.fillStyle = opts.colors[i];
      ctx.fillText('*', px, py);
    });
    ctx.restore();
  }
};

function scatterChart(id, o) {
  return new Chart(document.getElementById(id), {
    type: 'scatter',
    data: { datasets: [
      { label: o.labels[0], data: o.red.map(toXY), backgroundColor: RED, borderWidth: 0, pointRadius: 2, pointHoverRadius: 2 },
      { label: o.labels[1], data: o.black.map(toXY), backgroundColor: BLACK, borderWidth: 0, pointRadius: 2, pointHoverRadius: 2 }
    ]},
    options: {
      responsive: false, animation: false, events: [],
      layout: { padding: o.padding },
      plugins: {
        legend: { fullSize: false, maxHeight: o.legendMaxH,
          labels: { usePointStyle: true, pointStyle: 'circle', boxWidth: 6, boxHeight: 6, padding: o.legendPad, color: TEXT, font: {size: 13} } },
        subtitle: o.subtitle ? { display: true, text: o.subtitle, weight: 500, fullSize: false, color: TEXT, font: {size: 13, weight: 'normal'}, padding: o.subPad } : { display: false },
        tooltip: { enabled: false }
      },
      scales: {
        x: { type: 'linear', min: 5, max: 65,
          ticks: { stepSize: 20, padding: o.xTickPad, color: TEXT },
          grid: { display: true, drawOnChartArea: false, drawTicks: true, tickLength: 4, color: AXIS },
          border: { display: true, color: AXIS },
          title: { display: true, text: 'Average peptide retention time (min)', align: 'end', color: TEXT, padding: {top: 0, bottom: o.xTitlePad} },
          afterFit: s => { s.height = o.xH; } },
        y: { type: 'linear', min: o.yMin, max: o.yMax,
          ticks: { stepSize: o.yStep, padding: o.yTickPad, color: TEXT },
          grid: { display: true, drawOnChartArea: false, drawTicks: true, tickLength: 4, color: AXIS },
          border: { display: true, color: AXIS },
          title: { display: true, text: 'Fold-change difference rep 1 / rep 2 (%)', color: TEXT, padding: {top: o.yTitlePad, bottom: 0} },
          afterFit: s => { s.width = o.yW; s.paddingTop = o.plotTop; } }
      }
    }
  });
}

function barChart(id, o) {
  return new Chart(document.getElementById(id), {
    type: 'bar',
    data: { labels: cvBins, datasets: [
      { label: o.labels[0], data: o.red, backgroundColor: RED, borderWidth: 0, categoryPercentage: 0.92, barPercentage: 1 },
      { label: o.labels[1], data: o.black, backgroundColor: BLACK, borderWidth: 0, categoryPercentage: 0.92, barPercentage: 1 }
    ]},
    options: {
      responsive: false, animation: false, events: [],
      layout: { padding: o.padding },
      plugins: {
        legend: { fullSize: false, maxHeight: o.legendMaxH,
          labels: { boxWidth: 9, boxHeight: 9, padding: o.legendPad, color: TEXT, font: {size: 13} } },
        subtitle: o.subtitle ? { display: true, text: o.subtitle, weight: 500, fullSize: false, color: TEXT, font: {size: 13, weight: 'normal'}, padding: o.subPad } : { display: false },
        tooltip: { enabled: false },
        stars: { bins: o.starBins, values: o.starValues, colors: [RED, BLACK], shifts: [0, 0.3] }
      },
      scales: {
        x: { grid: { display: false, drawTicks: false }, border: { display: false },
          ticks: { autoSkip: false, maxRotation: 0, minRotation: 0, padding: o.xTickPad, color: TEXT,
            callback: (v, i) => cvTickLabels.includes(cvBins[i]) ? cvBins[i] : '' },
          title: { display: true, text: 'Coefficient of variation (%)', color: TEXT, padding: {top: 0, bottom: o.xTitlePad} },
          afterFit: s => { s.height = o.xH; } },
        y: { min: 0, max: o.yMax,
          ticks: { stepSize: o.yStep, padding: o.yTickPad, color: TEXT },
          grid: { color: GRID, drawTicks: false }, border: { display: false },
          title: { display: true, text: o.yTitle, color: TEXT, padding: {top: o.yTitlePad, bottom: 0} },
          afterFit: s => { s.width = o.yW; s.paddingTop = o.plotTop; } }
      }
    },
    plugins: [starPlugin]
  });
}

scatterChart('cA', {
  labels: ['DIA Fragment EIC (3,522 peptides)', 'Shotgun MS1 EIC (4,092 peptides)'],
  red: aFragCore.concat(aFragCore2, aFragOut), black: aMs1Core.concat(aMs1Out),
  padding: {left: 0, right: 68, top: 5, bottom: 0}, legendPad: 4, legendMaxH: 46,
  yMin: -400, yMax: 500, yStep: 100, yW: 66, plotTop: 54, xH: 53,
  xTickPad: 4, xTitlePad: 9, yTickPad: 7, yTitlePad: 9
});
barChart('cB', {
  labels: ['DIA Fragment EIC (846 proteins)', 'Shotgun MS1 EIC (769 proteins)'],
  red: bFragProteins, black: bMs1Proteins, yTitle: 'Number of proteins',
  starBins: bStarBins, starValues: bStarValues,
  padding: {left: 0, right: 17, top: 6, bottom: 0}, legendPad: 4, legendMaxH: 38,
  yMax: 140, yStep: 20, yW: 69, plotTop: 45, xH: 52,
  xTickPad: 10, xTitlePad: 9, yTickPad: 13, yTitlePad: 16
});
scatterChart('cC', {
  labels: ['DIA Fragment EIC', 'DIA MS1 EIC'], subtitle: '2,091 peptides quantified with each method', subPad: {top: 2, bottom: 0},
  red: cFragCore.concat(cFragCore2, cFragOut), black: cMs1Core.concat(cMs1Out),
  padding: {left: 0, right: 57, top: 5, bottom: 0}, legendPad: 10, legendMaxH: 27,
  yMin: -150, yMax: 250, yStep: 50, yW: 76, plotTop: 58, xH: 54,
  xTickPad: 4, xTitlePad: 6, yTickPad: 9, yTitlePad: 9
});
barChart('cD', {
  labels: ['DIA Fragment EIC', 'DIA MS1 EIC'], subtitle: '2,091 peptides quantified with each method', subPad: {top: 0, bottom: 0},
  red: dFragPeptides, black: dMs1Peptides, yTitle: 'Number of peptides',
  starBins: dStarBins, starValues: dStarValues,
  padding: {left: 0, right: 10, top: 4, bottom: 0}, legendPad: 10, legendMaxH: 27,
  yMax: 300, yStep: 50, yW: 76, plotTop: 52, xH: 51,
  xTickPad: 8, xTitlePad: 6, yTickPad: 13, yTitlePad: 15
});
</script>
</body>
</html>
